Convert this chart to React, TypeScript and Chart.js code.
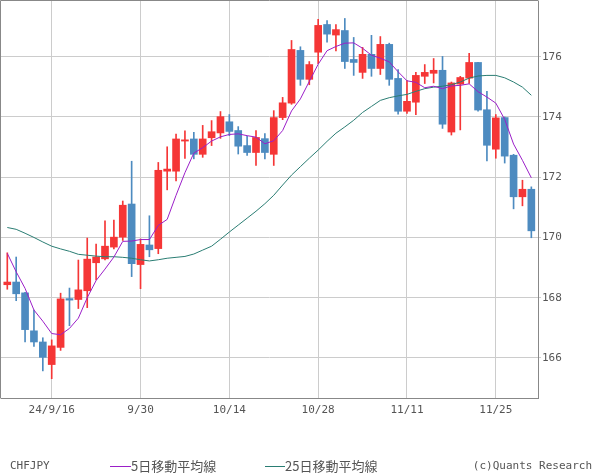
import { useEffect, useRef } from 'react';
import { Chart, registerables } from 'chart.js';

Chart.register(...registerables);

const dates = [
  '9/9', '9/10', '9/11', '9/12', '9/13', '9/16', '9/17', '9/18', '9/19', '9/20',
  '9/23', '9/24', '9/25', '9/26', '9/27', '9/30', '10/1', '10/2', '10/3', '10/4',
  '10/7', '10/8', '10/9', '10/10', '10/11', '10/14', '10/15', '10/16', '10/17', '10/18',
  '10/21', '10/22', '10/23', '10/24', '10/25', '10/28', '10/29', '10/30', '10/31', '11/1',
  '11/4', '11/5', '11/6', '11/7', '11/8', '11/11', '11/12', '11/13', '11/14', '11/15',
  '11/18', '11/19', '11/20', '11/21', '11/22', '11/25', '11/26', '11/27', '11/28', '11/29',
];

const opens = [
  168.43, 168.52, 168.16, 166.90, 166.53, 165.78, 166.35, 167.97, 167.94, 168.23,
  169.16, 169.29, 169.68, 170.01, 171.11, 169.10, 169.75, 169.63, 172.20, 172.20,
  173.20, 173.27, 172.76, 173.31, 173.47, 173.84, 173.55, 173.05, 172.82, 173.28,
  172.76, 173.98, 174.46, 176.21, 175.25, 176.15, 177.07, 176.72, 176.87, 175.91,
  175.48, 176.08, 175.61, 176.41, 175.28, 174.19, 174.49, 175.35, 175.45, 175.55,
  173.50, 175.09, 175.29, 175.81, 174.24, 172.93, 173.98, 172.73, 171.35, 171.60,
];
const highs = [
  169.49, 169.35, 168.18, 167.59, 166.67, 166.60, 168.15, 168.32, 169.25, 169.98,
  169.78, 170.55, 170.58, 171.21, 172.53, 169.95, 170.72, 172.49, 173.01, 173.43,
  173.54, 173.49, 173.72, 173.88, 174.18, 174.08, 173.68, 173.36, 173.55, 173.45,
  174.21, 174.65, 176.54, 176.33, 175.84, 177.24, 177.20, 177.07, 177.27, 176.64,
  176.31, 176.71, 176.67, 176.45, 175.57, 175.21, 175.48, 175.74, 175.94, 176.01,
  175.16, 175.35, 176.11, 175.81, 174.85, 174.08, 174.00, 172.76, 171.90, 171.68,
];
const lows = [
  168.28, 167.90, 166.53, 166.38, 165.57, 165.31, 166.25, 167.07, 167.64, 167.67,
  168.59, 169.25, 169.62, 169.90, 168.70, 168.30, 169.36, 169.46, 171.58, 171.88,
  172.62, 172.61, 172.66, 173.05, 173.29, 173.38, 172.77, 172.72, 172.39, 172.61,
  172.39, 173.91, 174.42, 175.05, 175.07, 175.77, 176.48, 176.19, 175.61, 175.38,
  175.28, 175.35, 175.41, 175.05, 174.09, 174.12, 174.08, 175.11, 175.13, 173.62,
  173.40, 173.57, 175.11, 174.19, 172.54, 172.63, 172.47, 170.95, 171.05, 169.99,
];
const closes = [
  168.52, 168.13, 166.94, 166.53, 166.02, 166.40, 167.96, 167.92, 168.26, 169.28,
  169.35, 169.71, 170.01, 171.07, 169.13, 169.77, 169.59, 172.23, 172.27, 173.27,
  173.24, 172.76, 173.27, 173.51, 174.01, 173.52, 173.03, 172.82, 173.32, 172.82,
  173.98, 174.47, 176.24, 175.25, 175.74, 177.04, 176.75, 176.90, 175.84, 175.81,
  176.08, 175.61, 176.41, 175.25, 174.19, 174.52, 175.38, 175.48, 175.55, 173.76,
  175.13, 175.31, 175.81, 174.23, 173.06, 173.97, 172.70, 171.35, 171.60, 170.22,
];

const ma5 = [
  169.47, 168.86, 168.31, 167.59, 167.22, 166.81, 166.77, 166.98, 167.32, 168.0,
  168.57, 168.95, 169.35, 169.87, 169.88, 169.93, 169.93, 170.4, 170.6, 171.4,
  172.15, 172.8, 172.98, 173.2, 173.34, 173.42, 173.44, 173.38, 173.33, 173.11,
  173.21, 173.55, 174.2, 174.6, 175.18, 175.75, 176.2, 176.34, 176.45, 176.46,
  176.28, 176.05, 175.95, 175.83, 175.5, 175.2, 175.15, 174.97, 175.02, 174.94,
  175.03, 175.05, 175.1, 174.84, 174.66, 174.46, 173.92, 173.1, 172.56, 171.98,
];
const ma25 = [
  170.33, 170.27, 170.14, 170.0, 169.85, 169.71, 169.62, 169.54, 169.44, 169.41,
  169.38, 169.36, 169.36, 169.34, 169.31, 169.26, 169.22, 169.26, 169.31, 169.34,
  169.37, 169.45, 169.58, 169.71, 169.94, 170.18, 170.41, 170.64, 170.87, 171.12,
  171.40, 171.74, 172.07, 172.35, 172.63, 172.90, 173.19, 173.46, 173.67, 173.89,
  174.15, 174.35, 174.55, 174.64, 174.70, 174.75, 174.85, 174.94, 174.99, 175.02,
  175.07, 175.16, 175.29, 175.36, 175.38, 175.38, 175.30, 175.16, 174.99, 174.72,
];

const yTicks = [166, 168, 170, 172, 174, 176];
const tickDates = ['9/16', '9/30', '10/14', '10/28', '11/11', '11/25'];
const tickLabels = ['24/9/16', '9/30', '10/14', '10/28', '11/11', '11/25'];

const symbolName = 'CHFJPY';
const ma5Name = '5日移動平均線';
const ma25Name = '25日移動平均線';
const creditText = '(c)Quants Research';

const UP = '#f53636';
const DOWN = '#4d8bc0';
const MA5C = '#9b1fc8';
const MA25C = '#2a7d73';
const GRID = '#cccccc';
const FRAME = '#888888';
const TEXT = '#555555';
const MONO = "'DejaVu Sans Mono', 'Liberation Mono', monospace";
const CJK = "'Noto Sans CJK JP', sans-serif";

export default function App() {
  const ref = useRef<HTMLCanvasElement>(null);

  useEffect(() => {
    const canvas = ref.current;
    if (!canvas) return;
    const idx = dates.map((_, i) => i);
    const colors = idx.map((i) => (closes[i] >= opens[i] ? UP : DOWN));
    const tickIdx = tickDates.map((d) => dates.indexOf(d));

    const framePlugin = {
      id: 'frameAndLegend',
      afterDraw(chart: any) {
        const { ctx, chartArea } = chart;
        ctx.save();
        ctx.strokeStyle = FRAME;
        ctx.lineWidth = 1;
        ctx.beginPath();
        ctx.moveTo(chartArea.left - 0.5, chartArea.bottom + 0.5);
        ctx.lineTo(chartArea.left - 0.5, chartArea.top - 0.5);
        ctx.lineTo(chartArea.right + 0.5, chartArea.top - 0.5);
        ctx.stroke();

        const ly = 466;
        ctx.fillStyle = TEXT;
        ctx.textBaseline = 'middle';
        ctx.font = `11px ${MONO}`;
        ctx.textAlign = 'left';
        ctx.fillText(symbolName, 10, ly);
        ctx.textAlign = 'right';
        ctx.fillText(creditText, 592, ly);

        ctx.textAlign = 'left';
        ctx.lineWidth = 1;
        ctx.strokeStyle = MA5C;
        ctx.beginPath();
        ctx.moveTo(110, ly + 0.5);
        ctx.lineTo(131, ly + 0.5);
        ctx.stroke();
        ctx.font = `13px ${CJK}`;
        ctx.fillText(ma5Name, 131, ly);

        ctx.strokeStyle = MA25C;
        ctx.beginPath();
        ctx.moveTo(265, ly + 0.5);
        ctx.lineTo(285, ly + 0.5);
        ctx.stroke();
        ctx.fillText(ma25Name, 285, ly);
        ctx.restore();
      },
    };

    const chart = new Chart(canvas, {
      type: 'bar',
      data: {
        datasets: [
          {
            type: 'line',
            label: ma5Name,
            data: idx.map((i) => ({ x: i, y: ma5[i] })),
            borderColor: MA5C,
            borderWidth: 1,
            pointRadius: 0,
            tension: 0,
            order: 0,
          } as any,
          {
            type: 'line',
            label: ma25Name,
            data: idx.map((i) => ({ x: i, y: ma25[i] })),
            borderColor: MA25C,
            borderWidth: 1,
            pointRadius: 0,
            tension: 0,
            order: 1,
          } as any,
          {
            type: 'bar',
            label: 'body',
            data: idx.map((i) => ({ x: i, y: [Math.min(opens[i], closes[i]), Math.max(opens[i], closes[i])] })),
            backgroundColor: colors,
            borderWidth: 0,
            barThickness: 7,
            minBarLength: 1,
            grouped: false,
            order: 2,
          } as any,
          {
            type: 'bar',
            label: 'wick',
            data: idx.map((i) => ({ x: i, y: [lows[i], highs[i]] })),
            backgroundColor: colors,
            borderWidth: 0,
            barThickness: 1,
            grouped: false,
            order: 3,
          } as any,
        ],
      },
      options: {
        responsive: false,
        animation: false,
        devicePixelRatio: 1,
        layout: { padding: { top: 1, left: 1, right: 0, bottom: 57 } },
        plugins: { legend: { display: false }, tooltip: { enabled: false } },
        scales: {
          x: {
            type: 'linear',
            min: -0.709,
            max: 59.75,
            offset: false,
            afterBuildTicks: (s: any) => {
              s.ticks = tickIdx.map((v) => ({ value: v }));
            },
            afterFit: (s: any) => {
              s.height = 20;
              s.paddingLeft = 0;
              s.paddingRight = 0;
            },
            grid: { color: GRID, offset: false, drawTicks: false, lineWidth: 1 },
            border: { display: true, color: FRAME, width: 1 },
            ticks: {
              autoSkip: false,
              maxRotation: 0,
              padding: 6,
              color: TEXT,
              font: { family: MONO, size: 11 },
              callback: (v: any) => {
                const k = tickIdx.indexOf(Number(v));
                return k >= 0 ? tickLabels[k] : '';
              },
            },
          },
          y: {
            type: 'linear',
            position: 'right',
            min: 164.67,
            max: 177.85,
            afterBuildTicks: (s: any) => {
              s.ticks = yTicks.map((v) => ({ value: v }));
            },
            afterFit: (s: any) => {
              s.width = 62;
              s.paddingTop = 0;
              s.paddingBottom = 0;
            },
            grid: { color: GRID, drawTicks: true, tickLength: 3, lineWidth: 1 },
            border: { display: true, color: FRAME, width: 1 },
            ticks: {
              padding: 1,
              color: TEXT,
              font: { family: MONO, size: 11 },
              callback: (v: any) => String(v),
            },
          },
        },
      } as any,
      plugins: [framePlugin],
    });

    return () => chart.destroy();
  }, []);

  return (
    <div style={{ position: 'fixed', left: 0, top: 0, width: 600, height: 475, background: '#fff' }}>
      <canvas ref={ref} width={600} height={475} style={{ display: 'block', width: 600, height: 475 }} />
    </div>
  );
}
